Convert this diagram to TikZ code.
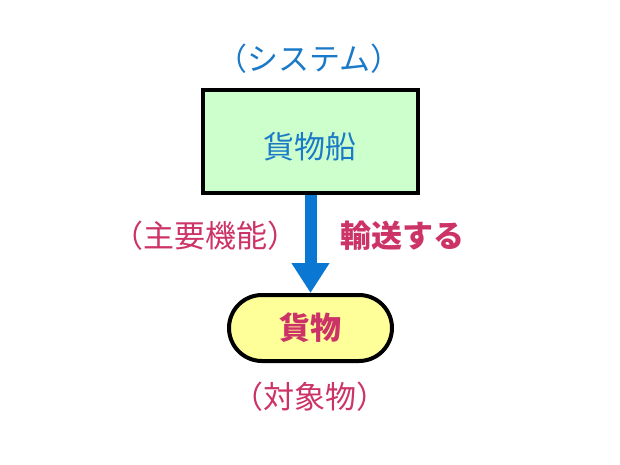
\documentclass[tikz,border=0pt]{standalone}
\usepackage{fontspec}
\newfontfamily\jp{Noto Sans CJK JP}
\usetikzlibrary{arrows.meta,shapes.misc}
\definecolor{txtblue}{HTML}{1A7AC8}
\definecolor{txtmag}{HTML}{CC3366}
\definecolor{arrblue}{HTML}{0A78D2}
\definecolor{boxgreen}{HTML}{CCFFCC}
\definecolor{boxyellow}{HTML}{FFFF99}
\tikzset{
  lbl/.style={font=\jp\fontsize{31}{33}\selectfont, inner sep=0pt},
  boldlbl/.style={font=\jp\bfseries\fontsize{31}{33}\selectfont, inner sep=0pt},
  sysbox/.style={draw=black, line width=4pt, fill=boxgreen, minimum width=215pt, minimum height=103pt, inner sep=0pt},
  objbox/.style={draw=black, line width=4pt, fill=boxyellow, rounded rectangle, minimum width=163pt, minimum height=66pt, inner sep=0pt},
  funcarrow/.style={draw=arrblue, line width=12pt, -{Triangle[width=36pt,length=30pt]}, shorten >=0pt}
}
\begin{document}
\begin{tikzpicture}[x=1pt,y=-1pt]
\useasboundingbox (0,0) rectangle (620,465);
\node[lbl, text=txtblue] (sys) at (309,59) {（システム）};
\node[sysbox] (ship) at (310.5,141.5) {};
\node[lbl, text=txtblue] (shiptxt) at (310,147) {貨物船};
\node[objbox] (cargo) at (310.5,328) {};
\node[boldlbl, text=txtmag] (cargotxt) at (310,328) {貨物};
\node[lbl, text=txtmag] (obj) at (310,397) {（対象物）};
\node[lbl, text=txtmag] (func) at (205,236) {（主要機能）};
\node[boldlbl, text=txtmag] (verb) at (402,236) {輸送する};
\draw[funcarrow] (ship.south) -- (cargo.north);
\end{tikzpicture}
\end{document}
